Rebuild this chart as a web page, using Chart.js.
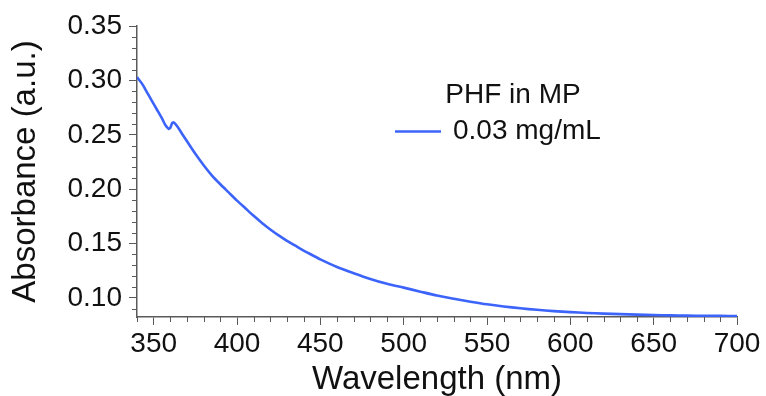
<!DOCTYPE html>
<html><head><meta charset="utf-8">
<script src="https://cdn.jsdelivr.net/npm/chart.js@4/dist/chart.umd.min.js"></script>
<style>html,body{margin:0;padding:0;background:#fff}</style>
</head><body>
<canvas id="c" width="766" height="396"></canvas>
<script>
const wavelengths = [340,343,346,349,352,355,357,359,360,361,362,364,367,370,375,380,385,390,395,400,405,410,415,420,425,430,435,440,445,450,460,470,480,490,500,510,520,530,540,550,560,570,580,590,600,610,620,630,640,650,660,670,680,690,700];
const absorbance = [0.303,0.297,0.289,0.281,0.273,0.265,0.259,0.2555,0.2565,0.2605,0.2615,0.258,0.251,0.244,0.2325,0.222,0.2125,0.2045,0.197,0.1895,0.1825,0.1755,0.169,0.163,0.1575,0.1525,0.148,0.1435,0.1395,0.1355,0.1285,0.1228,0.1175,0.113,0.1095,0.1058,0.1022,0.0992,0.0966,0.0942,0.0922,0.0905,0.0891,0.0879,0.0870,0.0862,0.0856,0.0851,0.0847,0.0843,0.0840,0.0838,0.0836,0.0835,0.0834];
const seriesName = '0.03 mg/mL';
const legendTitle = 'PHF in MP';
const xTickLabels = [350,400,450,500,550,600,650,700];
const yTickLabels = ['0.10','0.15','0.20','0.25','0.30','0.35'];
const xMinorTicks = [340,360,370,380,390,410,420,430,440,460,470,480,490,510,520,530,540,560,570,580,590,610,620,630,640,660,670,680,690];
const yMinorTicks = [0.09,0.11,0.12,0.13,0.14,0.16,0.17,0.18,0.19,0.21,0.22,0.23,0.24,0.26,0.27,0.28,0.29,0.31,0.32,0.33,0.34];

const FONT = '"Liberation Sans", Arial, Helvetica, sans-serif';
const AXIS = '#5a5a5a';
const LINE = '#3c64fa';

const minorPlugin = {
  id: 'minor',
  afterDraw(chart) {
    const ctx = chart.ctx, xs = chart.scales.x, ys = chart.scales.y;
    ctx.save();
    ctx.strokeStyle = AXIS; ctx.lineWidth = 1;
    ctx.beginPath();
    xMinorTicks.forEach(v => { const p = Math.round(xs.getPixelForValue(v)) + 0.5; ctx.moveTo(p, xs.top); ctx.lineTo(p, xs.top + 5); });
    yMinorTicks.forEach(v => { const p = Math.round(ys.getPixelForValue(v)) + 0.5; ctx.moveTo(ys.right, p); ctx.lineTo(ys.right - 5, p); });
    ctx.stroke();
    // legend
    ctx.fillStyle = '#111';
    ctx.font = '28px ' + FONT;
    ctx.textBaseline = 'alphabetic';
    ctx.textAlign = 'center';
    ctx.fillText(legendTitle, 513, 103);
    ctx.textAlign = 'left';
    ctx.fillText(seriesName, 453, 139);
    ctx.strokeStyle = chart.data.datasets[0].borderColor;
    ctx.lineWidth = 2.5;
    ctx.beginPath(); ctx.moveTo(395, 131.5); ctx.lineTo(441, 131.5); ctx.stroke();
    ctx.restore();
  }
};

const pts = wavelengths.map((w, i) => ({x: w, y: absorbance[i]}));

new Chart(document.getElementById('c'), {
  type: 'line',
  data: { datasets: [{ label: seriesName, data: pts, borderColor: LINE, borderWidth: 2.6, pointRadius: 0, tension: 0.25, fill: false }] },
  options: {
    responsive: false, animation: false,
    layout: { padding: { top: 26, right: 29, left: 0, bottom: 0 } },
    plugins: { legend: { display: false }, tooltip: { enabled: false } },
    scales: {
      x: {
        type: 'linear', min: 340, max: 700,
        afterBuildTicks(s) { s.ticks = xTickLabels.map(v => ({value: v})); },
        afterFit(s) { s.height = 79; },
        ticks: { autoSkip: false, maxRotation: 0, color: '#111', font: { family: FONT, size: 28 }, padding: 2, callback: v => String(v) },
        grid: { drawOnChartArea: false, tickLength: 8, color: AXIS, tickColor: AXIS, tickWidth: 1 },
        border: { color: AXIS, width: 1.5 },
        title: { display: true, text: 'Wavelength (nm)', color: '#111', font: { family: FONT, size: 33 }, padding: { top: 0, bottom: -4 } }
      },
      y: {
        min: 0.0825, max: 0.35,
        afterBuildTicks(s) { s.ticks = yTickLabels.map(v => ({value: parseFloat(v)})); },
        afterFit(s) { s.width = 137; },
        ticks: { color: '#111', font: { family: FONT, size: 28 }, padding: 7, callback: v => v.toFixed(2) },
        grid: { drawOnChartArea: false, tickLength: 8, color: AXIS, tickColor: AXIS, tickWidth: 1 },
        border: { color: AXIS, width: 1.5 },
        title: { display: true, text: 'Absorbance (a.u.)', color: '#111', font: { family: FONT, size: 33 }, padding: { top: 6, bottom: 0 } }
      }
    }
  },
  plugins: [minorPlugin]
});
</script>
</body></html>
